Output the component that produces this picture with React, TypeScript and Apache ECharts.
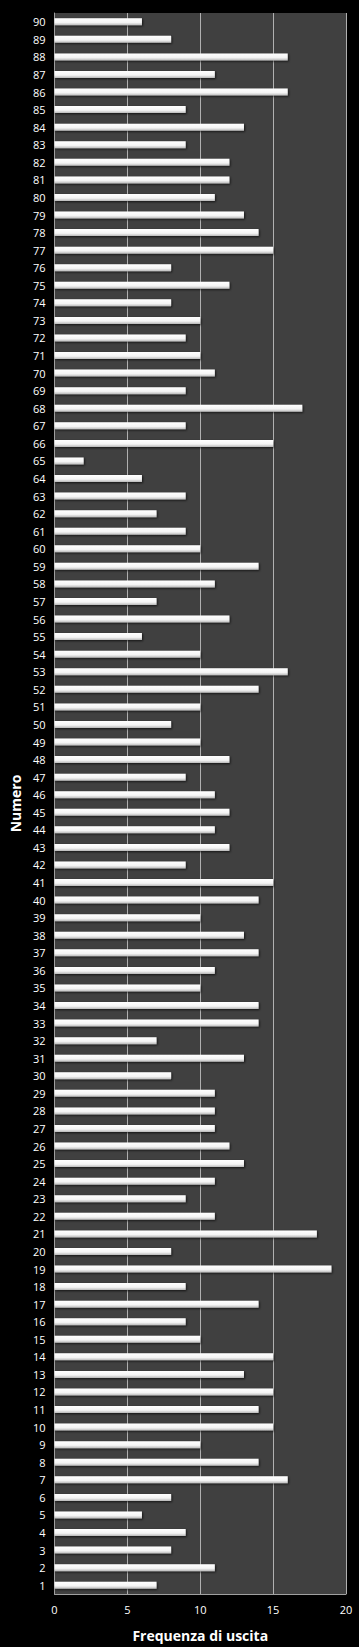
import React, { useEffect, useRef } from "react";
import * as echarts from "echarts";

const numbers: string[] = Array.from({ length: 90 }, (_, i) => String(i + 1));
const frequencies: number[] = [
  7, 11, 8, 9, 6, 8, 16, 14, 10, 15,
  14, 15, 13, 15, 10, 9, 14, 9, 19, 8,
  18, 11, 9, 11, 13, 12, 11, 11, 11, 8,
  13, 7, 14, 14, 10, 11, 14, 13, 10, 14,
  15, 9, 12, 11, 12, 11, 9, 12, 10, 8,
  10, 14, 16, 10, 6, 12, 7, 11, 14, 10,
  9, 7, 9, 6, 2, 15, 9, 17, 9, 11,
  10, 9, 10, 8, 12, 8, 15, 14, 13, 11,
  12, 12, 9, 13, 9, 16, 11, 16, 8, 6,
];
const xTicks = { min: 0, max: 20, interval: 5 };
const xTitle = "Frequenza di uscita";
const yTitle = "Numero";

export default function App() {
  const ref = useRef<HTMLDivElement>(null);
  useEffect(() => {
    if (!ref.current) return;
    const chart = echarts.init(ref.current, undefined, { renderer: "svg" });
    chart.setOption({
      animation: false,
      backgroundColor: "#000000",
      grid: {
        left: 53,
        right: 13,
        top: 13,
        bottom: 53,
        show: true,
        backgroundColor: "#404040",
        borderWidth: 0,
      },
      xAxis: {
        type: "value",
        min: xTicks.min,
        max: xTicks.max,
        interval: xTicks.interval,
        name: xTitle,
        nameLocation: "middle",
        nameGap: 34,
        nameTextStyle: {
          color: "#ffffff",
          fontSize: 14,
          fontWeight: "bold",
          fontFamily: "Open Sans",
        },
        axisLine: { show: true, lineStyle: { color: "#a0a0a0", width: 1 } },
        axisTick: { show: false },
        axisLabel: {
          color: "#ffffff",
          fontSize: 11,
          fontFamily: "Open Sans",
          margin: 10,
        },
        splitLine: { show: true, lineStyle: { color: "#b0b0b0", width: 1 } },
      },
      yAxis: {
        type: "category",
        data: numbers,
        name: yTitle,
        nameLocation: "middle",
        nameGap: 26,
        nameRotate: 90,
        nameTextStyle: {
          color: "#ffffff",
          fontSize: 14,
          fontWeight: "bold",
          fontFamily: "Open Sans",
        },
        axisLine: { show: true, lineStyle: { color: "#a0a0a0", width: 1 } },
        axisTick: { show: false },
        axisLabel: {
          color: "#ffffff",
          fontSize: 11,
          fontFamily: "Open Sans",
          margin: 9,
          interval: 0,
        },
      },
      series: [
        {
          type: "bar",
          data: frequencies,
          barWidth: 7,
          itemStyle: {
            color: new echarts.graphic.LinearGradient(0, 0, 0, 1, [
              { offset: 0, color: "#ffffff" },
              { offset: 0.6, color: "#f4f4f4" },
              { offset: 1, color: "#b8b8b8" },
            ]),
            shadowColor: "rgba(0,0,0,0.7)",
            shadowBlur: 2,
            shadowOffsetX: 1,
            shadowOffsetY: 1,
          },
        },
      ],
    });
    return () => chart.dispose();
  }, []);
  return (
    <div
      ref={ref}
      style={{ position: "fixed", left: 0, top: 0, width: 359, height: 1647 }}
    />
  );
}
